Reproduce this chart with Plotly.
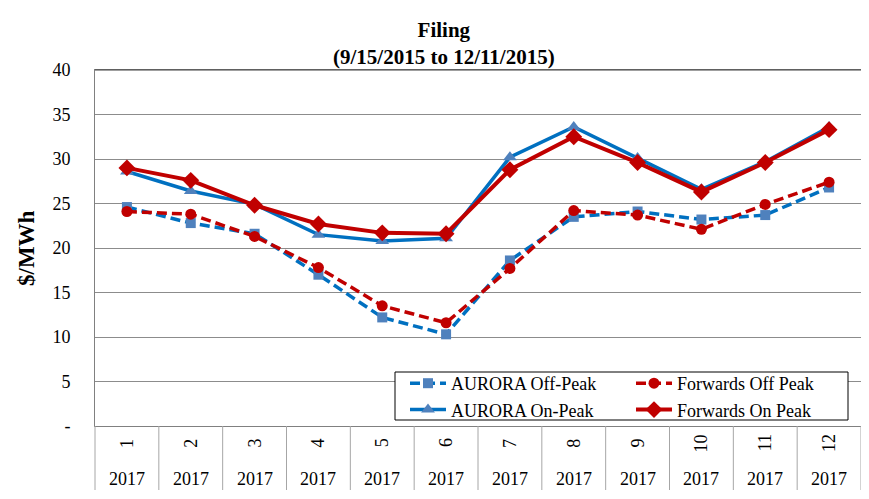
import plotly.graph_objects as go

months = ["1", "2", "3", "4", "5", "6", "7", "8", "9", "10", "11", "12"]
years = ["2017"] * 12

aurora_off = [24.6, 22.8, 21.6, 17.0, 12.2, 10.3, 18.6, 23.5, 24.1, 23.2, 23.7, 26.8]
forwards_off = [24.1, 23.8, 21.3, 17.8, 13.5, 11.6, 17.7, 24.2, 23.7, 22.1, 24.9, 27.4]
aurora_on = [28.6, 26.4, 24.9, 21.5, 20.8, 21.1, 30.2, 33.6, 30.1, 26.6, 29.7, 33.6]
forwards_on = [29.0, 27.6, 24.8, 22.7, 21.7, 21.6, 28.8, 32.5, 29.6, 26.3, 29.6, 33.3]

y_tickvals = [0, 5, 10, 15, 20, 25, 30, 35, 40]
y_ticktext = ["-", "5", "10", "15", "20", "25", "30", "35", "40"]

title_text = "<b>Filing<br>(9/15/2015 to 12/11/2015)</b>"
y_title = "<b>$/MWh</b>"

FONT = "Liberation Serif, Times New Roman, serif"
BLUE_LINE = "#0070C0"
BLUE_MARK = "#4F81BD"
RED = "#C00000"

W, H = 869, 499
OFF = 8  # page body margin: figure origin sits at screen (8, 8)
# target plot-area edges in screen pixels
SL, SR, ST, SB = 95, 861, 70, 426
L, R, T, B = SL - OFF, SR - OFF, ST - OFF, SB - OFF  # in figure pixels
ml, mr, mt, mb = L, W - R, T, H - B
pw, ph = R - L, B - T


def px_x(p):
    """screen x pixel -> paper x"""
    return (p - SL) / pw


def px_y(p):
    """screen y pixel -> paper y"""
    return (SB - p) / ph


fig = go.Figure()
fig.add_trace(go.Scatter(
    x=months, y=aurora_off, name="AURORA Off-Peak", mode="lines+markers",
    line=dict(color=BLUE_LINE, width=3.5, dash="10px,5px"),
    marker=dict(symbol="square", size=10, color=BLUE_MARK), legend="legend"))
fig.add_trace(go.Scatter(
    x=months, y=forwards_off, name="Forwards Off Peak", mode="lines+markers",
    line=dict(color=RED, width=3.5, dash="10px,5px"),
    marker=dict(symbol="circle", size=11, color=RED), legend="legend2"))
fig.add_trace(go.Scatter(
    x=months, y=aurora_on, name="AURORA On-Peak", mode="lines+markers",
    line=dict(color=BLUE_LINE, width=3.5),
    marker=dict(symbol="triangle-up", size=12, color=BLUE_MARK), legend="legend"))
fig.add_trace(go.Scatter(
    x=months, y=forwards_on, name="Forwards On Peak", mode="lines+markers",
    line=dict(color=RED, width=4),
    marker=dict(symbol="diamond", size=13, color=RED), legend="legend2"))

shapes = []
# outer chart border (left and top visible)
shapes.append(dict(type="rect", xref="paper", yref="paper",
                   x0=px_x(7), x1=px_x(900), y0=px_y(530), y1=px_y(5),
                   line=dict(color="#BFBFBF", width=1.5), layer="below"))
# category dividers below the plot area
n = len(months)
for k in range(n + 1):
    shapes.append(dict(type="line", xref="paper", yref="paper",
                       x0=k / n, x1=k / n, y0=0, y1=px_y(490),
                       line=dict(color="#A6A6A6", width=1)))
# top frame line
shapes.append(dict(type="line", xref="paper", yref="paper",
                   x0=0, x1=1, y0=1, y1=1, line=dict(color="#404040", width=1.2)))
# legend box
shapes.append(dict(type="rect", xref="paper", yref="paper",
                   x0=px_x(395), x1=px_x(848), y0=px_y(420), y1=px_y(372),
                   line=dict(color="black", width=1), fillcolor="white", layer="above"))

annotations = []
annotations.append(dict(text=title_text, xref="paper", yref="paper",
                        x=px_x(444), y=px_y(43), xanchor="center", yanchor="middle",
                        showarrow=False, font=dict(family=FONT, size=21, color="black")))
annotations.append(dict(text=y_title, xref="paper", yref="paper",
                        x=px_x(26), y=0.5, xanchor="center", yanchor="middle",
                        textangle=-90, showarrow=False,
                        font=dict(family=FONT, size=23, color="black")))
for i, (m, yr) in enumerate(zip(months, years)):
    annotations.append(dict(text=m, xref="x", yref="paper", x=i, y=px_y(443),
                            xanchor="center", yanchor="middle", textangle=-90,
                            showarrow=False, font=dict(family=FONT, size=18, color="black")))
    annotations.append(dict(text=yr, xref="x", yref="paper", x=i, y=px_y(479),
                            xanchor="center", yanchor="middle",
                            showarrow=False, font=dict(family=FONT, size=18, color="black")))

legend_common = dict(orientation="v", xanchor="left", yanchor="top",
                     bgcolor="rgba(0,0,0,0)", borderwidth=0,
                     font=dict(family=FONT, size=18, color="black"),
                     itemwidth=36, tracegroupgap=0)

fig.update_layout(
    template="none",
    width=W, height=H,
    margin=dict(l=ml, r=mr, t=mt, b=mb, pad=0, autoexpand=False),
    paper_bgcolor="white", plot_bgcolor="white",
    font=dict(family=FONT, size=18, color="black"),
    showlegend=True, hovermode=False,
    legend=dict(x=px_x(405), y=px_y(365), **legend_common),
    legend2=dict(x=px_x(631), y=px_y(365), **legend_common),
    xaxis=dict(type="category", range=[-0.5, n - 0.5], showticklabels=False,
               showgrid=False, zeroline=False, showline=True, linecolor="#808080",
               linewidth=1, mirror=True, ticks="", automargin=False),
    yaxis=dict(range=[0, 40], tickvals=y_tickvals, ticktext=y_ticktext,
               showgrid=True, gridcolor="#8C8C8C", gridwidth=1, zeroline=False,
               showline=True, linecolor="#808080", linewidth=1, mirror=True,
               ticks="", ticklabelstandoff=20, automargin=False,
               tickfont=dict(family=FONT, size=18, color="black")),
    shapes=shapes, annotations=annotations,
)

fig.write_html("out.html")
